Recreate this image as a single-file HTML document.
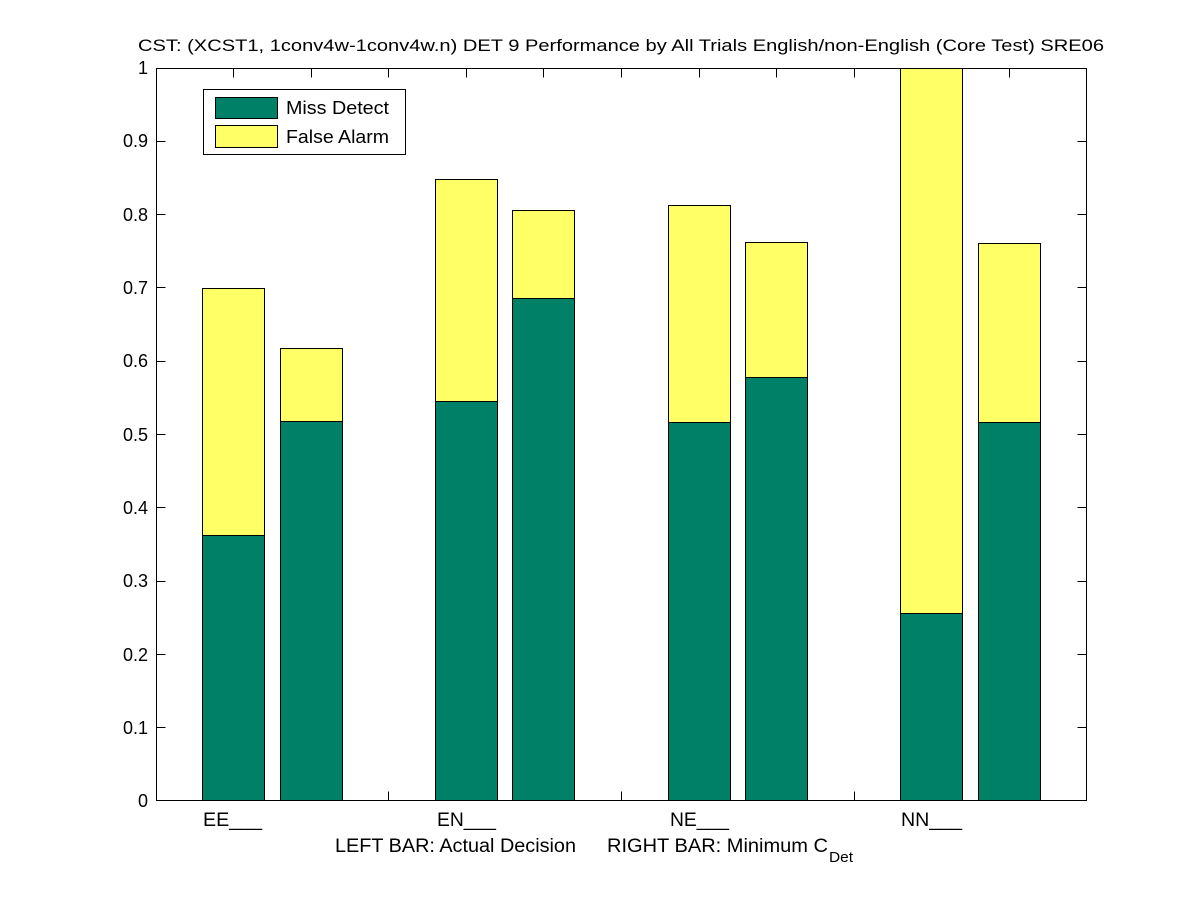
<!DOCTYPE html>
<html>
<head>
<meta charset="utf-8">
<style>
html,body{margin:0;padding:0;background:#fff;}
svg{display:block;}
text{font-family:"Liberation Sans",Arial,Helvetica,sans-serif;fill:#000;}
</style>
</head>
<body>
<svg width="1201" height="900" viewBox="0 0 1201 900" xmlns="http://www.w3.org/2000/svg">
<rect x="0" y="0" width="1201" height="900" fill="#fff"/>
<!-- title -->
<text x="621" y="51" font-size="17" text-anchor="middle" textLength="966" lengthAdjust="spacingAndGlyphs">CST: (XCST1, 1conv4w-1conv4w.n) DET 9 Performance by All Trials English/non-English (Core Test) SRE06</text>

<!-- axes box -->
<rect x="156.5" y="68.5" width="930" height="732" fill="#fff" stroke="#000" stroke-width="1"/>

<!-- y ticks -->
<g stroke="#000" stroke-width="1">
<line x1="156.5" y1="727.5" x2="165.5" y2="727.5"/><line x1="1086.5" y1="727.5" x2="1077.5" y2="727.5"/>
<line x1="156.5" y1="654.5" x2="165.5" y2="654.5"/><line x1="1086.5" y1="654.5" x2="1077.5" y2="654.5"/>
<line x1="156.5" y1="581.5" x2="165.5" y2="581.5"/><line x1="1086.5" y1="581.5" x2="1077.5" y2="581.5"/>
<line x1="156.5" y1="507.5" x2="165.5" y2="507.5"/><line x1="1086.5" y1="507.5" x2="1077.5" y2="507.5"/>
<line x1="156.5" y1="434.5" x2="165.5" y2="434.5"/><line x1="1086.5" y1="434.5" x2="1077.5" y2="434.5"/>
<line x1="156.5" y1="361.5" x2="165.5" y2="361.5"/><line x1="1086.5" y1="361.5" x2="1077.5" y2="361.5"/>
<line x1="156.5" y1="287.5" x2="165.5" y2="287.5"/><line x1="1086.5" y1="287.5" x2="1077.5" y2="287.5"/>
<line x1="156.5" y1="214.5" x2="165.5" y2="214.5"/><line x1="1086.5" y1="214.5" x2="1077.5" y2="214.5"/>
<line x1="156.5" y1="141.5" x2="165.5" y2="141.5"/><line x1="1086.5" y1="141.5" x2="1077.5" y2="141.5"/>
</g>
<!-- x ticks -->
<g stroke="#000" stroke-width="1">
<line x1="233.5" y1="68.5" x2="233.5" y2="77.5"/><line x1="233.5" y1="800.5" x2="233.5" y2="791.5"/>
<line x1="311.5" y1="68.5" x2="311.5" y2="77.5"/><line x1="311.5" y1="800.5" x2="311.5" y2="791.5"/>
<line x1="388.5" y1="68.5" x2="388.5" y2="77.5"/><line x1="388.5" y1="800.5" x2="388.5" y2="791.5"/>
<line x1="466.5" y1="68.5" x2="466.5" y2="77.5"/><line x1="466.5" y1="800.5" x2="466.5" y2="791.5"/>
<line x1="543.5" y1="68.5" x2="543.5" y2="77.5"/><line x1="543.5" y1="800.5" x2="543.5" y2="791.5"/>
<line x1="621.5" y1="68.5" x2="621.5" y2="77.5"/><line x1="621.5" y1="800.5" x2="621.5" y2="791.5"/>
<line x1="699.5" y1="68.5" x2="699.5" y2="77.5"/><line x1="699.5" y1="800.5" x2="699.5" y2="791.5"/>
<line x1="776.5" y1="68.5" x2="776.5" y2="77.5"/><line x1="776.5" y1="800.5" x2="776.5" y2="791.5"/>
<line x1="854.5" y1="68.5" x2="854.5" y2="77.5"/><line x1="854.5" y1="800.5" x2="854.5" y2="791.5"/>
<line x1="931.5" y1="68.5" x2="931.5" y2="77.5"/><line x1="931.5" y1="800.5" x2="931.5" y2="791.5"/>
<line x1="1009.5" y1="68.5" x2="1009.5" y2="77.5"/><line x1="1009.5" y1="800.5" x2="1009.5" y2="791.5"/>
</g>

<!-- bars -->
<g stroke="#000" stroke-width="1">
<rect x="202.5" y="288.5" width="62" height="247" fill="#ffff66"/>
<rect x="202.5" y="535.5" width="62" height="265" fill="#008066"/>
<rect x="280.5" y="348.5" width="62" height="73" fill="#ffff66"/>
<rect x="280.5" y="421.5" width="62" height="379" fill="#008066"/>
<rect x="435.5" y="179.5" width="62" height="222" fill="#ffff66"/>
<rect x="435.5" y="401.5" width="62" height="399" fill="#008066"/>
<rect x="512.5" y="210.5" width="62" height="88" fill="#ffff66"/>
<rect x="512.5" y="298.5" width="62" height="502" fill="#008066"/>
<rect x="668.5" y="205.5" width="62" height="217" fill="#ffff66"/>
<rect x="668.5" y="422.5" width="62" height="378" fill="#008066"/>
<rect x="745.5" y="242.5" width="62" height="135" fill="#ffff66"/>
<rect x="745.5" y="377.5" width="62" height="423" fill="#008066"/>
<rect x="900.5" y="68.5" width="62" height="545" fill="#ffff66"/>
<rect x="900.5" y="613.5" width="62" height="187" fill="#008066"/>
<rect x="978.5" y="243.5" width="62" height="179" fill="#ffff66"/>
<rect x="978.5" y="422.5" width="62" height="378" fill="#008066"/>
</g>

<rect x="156.5" y="68.5" width="930" height="732" fill="none" stroke="#000" stroke-width="1"/>

<!-- y tick labels -->
<g font-size="18" text-anchor="end">
<text x="148" y="807">0</text>
<text x="148" y="734">0.1</text>
<text x="148" y="661">0.2</text>
<text x="148" y="587">0.3</text>
<text x="148" y="514">0.4</text>
<text x="148" y="441">0.5</text>
<text x="148" y="367">0.6</text>
<text x="148" y="294">0.7</text>
<text x="148" y="221">0.8</text>
<text x="148" y="147">0.9</text>
<text x="148" y="74">1</text>
</g>

<!-- x tick labels -->
<g font-size="19">
<text x="203" y="826" textLength="59" lengthAdjust="spacingAndGlyphs">EE___</text>
<text x="437" y="826" textLength="59" lengthAdjust="spacingAndGlyphs">EN___</text>
<text x="670" y="826" textLength="59" lengthAdjust="spacingAndGlyphs">NE___</text>
<text x="901" y="826" textLength="61" lengthAdjust="spacingAndGlyphs">NN___</text>
</g>

<!-- x label -->
<text x="335" y="852" font-size="19" textLength="241" lengthAdjust="spacingAndGlyphs">LEFT BAR: Actual Decision</text>
<text x="607" y="852" font-size="19" textLength="221" lengthAdjust="spacingAndGlyphs">RIGHT BAR: Minimum C</text>
<text x="829" y="862" font-size="15" textLength="24" lengthAdjust="spacingAndGlyphs">Det</text>

<!-- legend -->
<rect x="203.5" y="89.5" width="202" height="65" fill="#fff" stroke="#000" stroke-width="1"/>
<rect x="215.5" y="97.5" width="62" height="21" fill="#008066" stroke="#000" stroke-width="1"/>
<rect x="215.5" y="125.5" width="62" height="22" fill="#ffff66" stroke="#000" stroke-width="1"/>
<text x="286" y="114" font-size="18" textLength="103" lengthAdjust="spacingAndGlyphs">Miss Detect</text>
<text x="286" y="143" font-size="18" textLength="103" lengthAdjust="spacingAndGlyphs">False Alarm</text>
</svg>
</body>
</html>
